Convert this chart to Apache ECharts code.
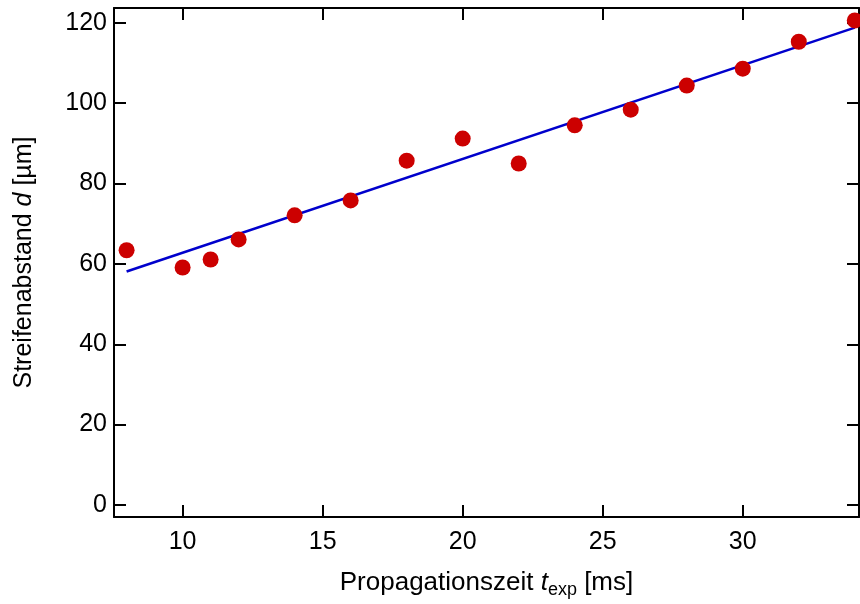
<!DOCTYPE html>
<html><head><meta charset="utf-8">
<script src="https://cdn.jsdelivr.net/npm/echarts@6/dist/echarts.min.js"></script>
<style>html,body{margin:0;padding:0;background:#fff}#c{width:860px;height:604px}</style>
</head><body><div id="c"></div>
<script>
const tExp = [8, 10, 11, 12, 14, 16, 18, 20, 22, 24, 26, 28, 30, 32, 34];
const dVals = [63.4, 59.1, 61.1, 66.1, 72.1, 75.8, 85.7, 91.2, 85.0, 94.5, 98.4, 104.4, 108.6, 115.3, 120.6];
const fitX = [8, 34];
const fitY = [58.1, 118.8];
const xTicks = [10, 15, 20, 25, 30];
const yTicks = [0, 20, 40, 60, 80, 100, 120];

const font = 'Liberation Sans, Arial, sans-serif';
const FS = 25;
const TS = 26;
const chart = echarts.init(document.getElementById('c'), null, {renderer: 'canvas'});
const line = {show: true, onZero: false, lineStyle: {color: '#000', width: 2}};
const tick = (vals) => ({show: true, inside: true, length: 12, customValues: vals, lineStyle: {color: '#000', width: 2}});
chart.setOption({
  animation: false,
  backgroundColor: '#fff',
  grid: {left: 114, top: 8, width: 745, height: 510, containLabel: false},
  xAxis: [
    {type: 'value', min: 7.55, max: 34.15, position: 'bottom',
      axisLine: line, splitLine: {show: false}, axisTick: tick(xTicks),
      axisLabel: {show: true, color: '#000', fontSize: FS, fontFamily: font, margin: 13, customValues: xTicks},
      name: '{n|Propagationszeit }{i|t}{s|exp}{n| [ms]}', nameLocation: 'middle', nameGap: 50,
      nameTextStyle: {color: '#000', fontFamily: font, fontSize: TS,
        rich: {n: {fontSize: TS, fontFamily: font, color: '#000'},
               i: {fontSize: TS, fontFamily: font, fontStyle: 'italic', color: '#000'},
               s: {fontSize: 18, fontFamily: font, color: '#000', verticalAlign: 'bottom', padding: [14, 0, 0, 0]}}}
    },
    {type: 'value', min: 7.55, max: 34.15, position: 'top',
      axisLine: line, splitLine: {show: false}, axisTick: tick(xTicks), axisLabel: {show: false}}
  ],
  yAxis: [
    {type: 'value', min: -3, max: 123.7, position: 'left',
      axisLine: line, splitLine: {show: false}, axisTick: tick(yTicks),
      axisLabel: {show: true, color: '#000', fontSize: FS, fontFamily: font, margin: 7, customValues: yTicks},
      name: '{n|Streifenabstand }{i|d}{n| [µm]}', nameLocation: 'middle', nameGap: 77, nameRotate: 90,
      nameTextStyle: {color: '#000', fontFamily: font, fontSize: FS,
        rich: {n: {fontSize: FS, fontFamily: font, color: '#000'},
               i: {fontSize: FS, fontFamily: font, fontStyle: 'italic', color: '#000'}}}
    },
    {type: 'value', min: -3, max: 123.7, position: 'right',
      axisLine: line, splitLine: {show: false}, axisTick: tick(yTicks), axisLabel: {show: false}}
  ],
  series: [
    {type: 'line', xAxisIndex: 0, yAxisIndex: 0, data: fitX.map((x, i) => [x, fitY[i]]),
      showSymbol: false, symbol: 'none', lineStyle: {color: '#0000cc', width: 2.5}, z: 2, clip: false},
    {type: 'scatter', xAxisIndex: 0, yAxisIndex: 0, data: tExp.map((x, i) => [x, dVals[i]]),
      symbol: 'circle', symbolSize: 16, itemStyle: {color: '#cc0000', opacity: 1}, z: 3, clip: false}
  ]
});
</script></body></html>
